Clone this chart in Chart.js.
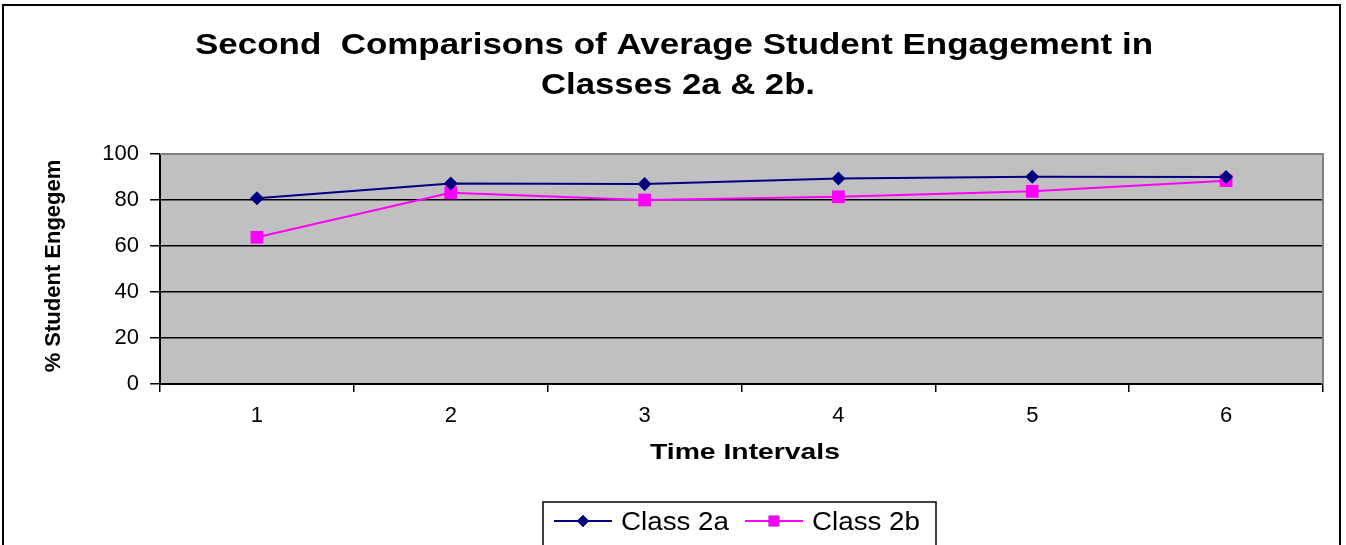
<!DOCTYPE html>
<html>
<head>
<meta charset="utf-8">
<script src="https://cdn.jsdelivr.net/npm/chart.js@4"></script>
<style>
  html, body { margin: 0; padding: 0; background: #fff; }
  #wrap { width: 1346px; height: 545px; }
</style>
</head>
<body>
<div id="wrap"><canvas id="engagementChart" width="1346" height="545"></canvas></div>
<script>
// data
const intervals = ['1', '2', '3', '4', '5', '6'];
const class2a = [80.8, 87.2, 87, 89.3, 90.1, 90];
const class2b = [63.8, 83.1, 80, 81.4, 83.8, 88.4];
const yTicks = [0, 20, 40, 60, 80, 100];

const titleLines = ['Second  Comparisons of Average Student Engagement in', 'Classes 2a & 2b.'];
const xTitle = 'Time Intervals';
const yTitle = '% Student Engegem';

const FONT = '"Liberation Sans", Arial, sans-serif';

// draw text stretched horizontally to a given width (the picture is wider than plain Arial)
const stretchText = (ctx, text, cx, y, font, width) => {
  ctx.save();
  ctx.font = font;
  const w = ctx.measureText(text).width;
  const sx = width / w;
  ctx.translate(cx, y);
  ctx.scale(sx, 1);
  ctx.textAlign = 'center';
  ctx.textBaseline = 'alphabetic';
  ctx.fillStyle = '#000';
  ctx.fillText(text, 0, 0);
  ctx.restore();
};

const plotBg = {
  id: 'plotBg',
  beforeDraw(chart) {
    const { ctx, chartArea: a } = chart;
    ctx.save();
    ctx.fillStyle = '#fff';
    ctx.fillRect(0, 0, chart.width, chart.height);
    ctx.fillStyle = '#C0C0C0';
    ctx.fillRect(a.left, a.top, a.right - a.left, a.bottom - a.top);
    ctx.restore();
  },
  beforeDatasetsDraw(chart) {
    const { ctx, chartArea: a } = chart;
    ctx.save();
    ctx.strokeStyle = '#808080';
    ctx.lineWidth = 2;
    ctx.beginPath();
    ctx.moveTo(a.left, a.top);
    ctx.lineTo(a.right, a.top);
    ctx.lineTo(a.right, a.bottom);
    ctx.stroke();
    ctx.restore();
  }
};

const textAndLegend = {
  id: 'textAndLegend',
  afterDraw(chart) {
    const ctx = chart.ctx;
    // outer frame
    ctx.save();
    ctx.strokeStyle = '#000';
    ctx.lineWidth = 2;
    ctx.strokeRect(3, 5, 1337, 560);
    ctx.restore();

    // titles
    stretchText(ctx, titleLines[0], 674, 54, 'bold 30px ' + FONT, 958);
    stretchText(ctx, titleLines[1], 678, 94, 'bold 30px ' + FONT, 274);
    stretchText(ctx, xTitle, 745, 459, 'bold 22px ' + FONT, 190);

    // y title, rotated
    ctx.save();
    ctx.translate(60, 266);
    ctx.rotate(-Math.PI / 2);
    ctx.font = 'bold 22px ' + FONT;
    ctx.textAlign = 'center';
    ctx.textBaseline = 'alphabetic';
    ctx.fillStyle = '#000';
    ctx.fillText(yTitle, 0, 0);
    ctx.restore();

    // legend
    ctx.save();
    ctx.strokeStyle = '#000';
    ctx.lineWidth = 1.5;
    ctx.strokeRect(543, 502, 393, 50);
    const items = [
      { x0: 554, x1: 612, tx: 621 },
      { x0: 745, x1: 803, tx: 812 }
    ];
    chart.data.datasets.forEach((ds, i) => {
      const it = items[i];
      const y = 521;
      ctx.strokeStyle = ds.borderColor;
      ctx.lineWidth = 2;
      ctx.beginPath();
      ctx.moveTo(it.x0, y);
      ctx.lineTo(it.x1, y);
      ctx.stroke();
      Chart.helpers.drawPoint(ctx, {
        pointStyle: ds.pointStyle,
        radius: ds.pointStyle === 'rect' ? 7.5 : 6,
        borderWidth: 0
      }, (it.x0 + it.x1) / 2, y);
      ctx.fillStyle = ds.pointBackgroundColor;
      ctx.fill();
      ctx.save();
      ctx.font = '26px ' + FONT;
      const w = ctx.measureText(ds.label).width;
      ctx.translate(it.tx, y + 9);
      ctx.scale(108 / w, 1);
      ctx.fillStyle = '#000';
      ctx.textAlign = 'left';
      ctx.fillText(ds.label, 0, 0);
      ctx.restore();
    });
    ctx.restore();
  }
};

new Chart(document.getElementById('engagementChart'), {
  type: 'line',
  data: {
    labels: intervals,
    datasets: [
      {
        label: 'Class 2a',
        data: class2a,
        borderColor: '#000080',
        backgroundColor: '#000080',
        pointBackgroundColor: '#000080',
        pointBorderColor: '#000080',
        pointStyle: 'rectRot',
        pointRadius: 7,
        pointBorderWidth: 0,
        borderWidth: 2,
        tension: 0
      },
      {
        label: 'Class 2b',
        data: class2b,
        borderColor: '#FF00FF',
        backgroundColor: '#FF00FF',
        pointBackgroundColor: '#FF00FF',
        pointBorderColor: '#FF00FF',
        pointStyle: 'rect',
        pointRadius: 9,
        pointBorderWidth: 0,
        borderWidth: 2,
        tension: 0
      }
    ]
  },
  options: {
    responsive: false,
    animation: false,
    devicePixelRatio: 1,
    layout: { padding: { left: 0, top: 154, right: 23, bottom: 0 } },
    plugins: {
      legend: { display: false },
      title: { display: false },
      tooltip: { enabled: false }
    },
    scales: {
      x: {
        offset: true,
        afterFit: (scale) => { scale.height = 161; },
        grid: {
          offset: true,
          drawOnChartArea: false,
          drawTicks: true,
          tickLength: 8,
          color: '#000',
          lineWidth: 1.5
        },
        border: { color: '#000', width: 2 },
        ticks: {
          color: '#000',
          padding: 11,
          font: { family: FONT, size: 22 }
        }
      },
      y: {
        min: 0,
        max: 100,
        afterFit: (scale) => { scale.width = 160; },
        afterBuildTicks: (scale) => { scale.ticks = yTicks.map(v => ({ value: v })); },
        grid: {
          color: '#000',
          lineWidth: 1.5,
          tickLength: 10
        },
        border: { color: '#000', width: 2 },
        ticks: {
          color: '#000',
          padding: 11,
          font: { family: FONT, size: 22 }
        }
      }
    }
  },
  plugins: [plotBg, textAndLegend]
});
</script>
</body>
</html>
